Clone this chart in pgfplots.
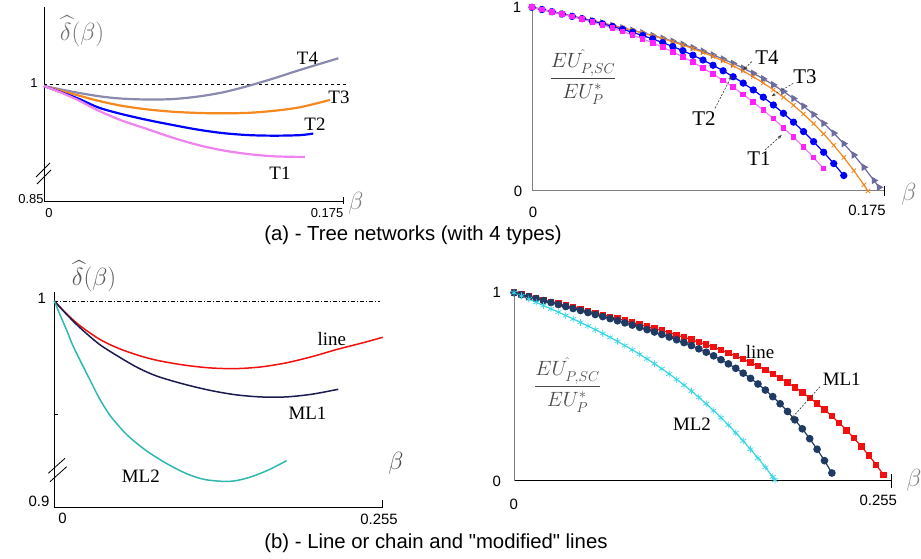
\documentclass[border=0pt]{standalone}
\usepackage{amsmath}
\usepackage{pgfplots}
\pgfplotsset{compat=1.18}
\usepackage{fontspec}
\setmainfont{Liberation Serif}
\setsansfont{Liberation Sans}
\newfontfamily\plainsans{Liberation Sans}[Ligatures=TeXOff]
\usetikzlibrary{arrows.meta,plotmarks}

\definecolor{tOneL}{HTML}{EE82EE}
\definecolor{tOneM}{HTML}{FF22FF}
\definecolor{tTwo}{HTML}{0000FF}
\definecolor{tThree}{HTML}{F5891F}
\definecolor{tFourA}{HTML}{8A8AAE}
\definecolor{tFourB}{HTML}{6C6C9E}
\definecolor{lineRed}{HTML}{F01010}
\definecolor{mlOneA}{HTML}{1B1B4F}
\definecolor{mlOneB}{HTML}{1F3A63}
\definecolor{mlTwoA}{HTML}{2FB8B2}
\definecolor{mlTwoB}{HTML}{3AD6E6}
\definecolor{axgray}{HTML}{808080}

\newcommand\tickfont{\sffamily\fontsize{15}{15}\selectfont}
\newcommand\tickfonta{\sffamily\fontsize{13}{13}\selectfont}
\newcommand\curvefont{\fontsize{19}{21}\selectfont}
\newcommand\curvefontb{\fontsize{21}{23}\selectfont}
\newcommand\capfont{\plainsans\fontsize{20.4}{22}\selectfont}

\pgfplotsset{
  panel/.style={scale only axis, axis lines=left, axis line style={-, line width=1bp},
    xtick=\empty, ytick=\empty, clip=false, anchor=south west},
}

\begin{document}
\begin{tikzpicture}[x=1bp,y=1bp]
\useasboundingbox (0,0) rectangle (921,559);

% ---------------- (a) left: delta-hat for tree networks ----------------
\begin{axis}[panel, at={(44bp,357bp)}, width=299bp, height=195bp,
  xmin=0, xmax=0.175, ymin=0.85, ymax=1.0979]
\addplot[black, dashed, line width=0.8bp] coordinates {(0,1) (0.178,1)};
\addplot[tFourA, line width=2.2bp, smooth] coordinates {
 (0,0.9975) (0.01,0.9930) (0.02,0.9888) (0.033,0.9842) (0.045,0.9815) (0.06,0.9803)
 (0.075,0.9808) (0.09,0.9840) (0.105,0.9895) (0.12,0.9978) (0.135,1.0075) (0.15,1.0180) (0.1723,1.0327)};
\addplot[tThree, line width=2.2bp, smooth] coordinates {
 (0,0.9975) (0.01,0.9912) (0.02,0.9855) (0.032,0.9785) (0.045,0.9725) (0.06,0.9678)
 (0.075,0.9648) (0.09,0.9632) (0.105,0.9627) (0.12,0.9634) (0.135,0.9660) (0.15,0.9705) (0.1674,0.9797)};
\addplot[tTwo, line width=2.2bp, smooth] coordinates {
 (0,0.9975) (0.01,0.9895) (0.02,0.9815) (0.032,0.9700) (0.045,0.9620) (0.06,0.9545)
 (0.075,0.9480) (0.09,0.9420) (0.105,0.9375) (0.12,0.9350) (0.135,0.9343) (0.15,0.9350) (0.1576,0.9370)};
\addplot[tOneL, line width=2.2bp, smooth] coordinates {
 (0,0.9975) (0.01,0.9890) (0.02,0.9795) (0.032,0.9660) (0.045,0.9540) (0.06,0.9430)
 (0.075,0.9320) (0.09,0.9225) (0.105,0.9155) (0.12,0.9108) (0.135,0.9080) (0.1527,0.9072)};
\draw[black, line width=0.8bp] (axis cs:0.175,0.8475) -- (axis cs:0.175,0.8564);
\end{axis}

% ---------------- (a) right: utility ratio for tree networks ----------------
\begin{axis}[panel, at={(532bp,368bp)}, width=352bp, height=183.7bp,
  xmin=0, xmax=0.175, ymin=0, ymax=1,
  x axis line style={axgray}, y axis line style={axgray}]
\addplot[tFourB, line width=1.2bp, mark=triangle*, mark size=3.2bp,
  mark options={rotate=-90, fill=tFourB, draw=tFourB}] coordinates {
 (0,1) (0.005,0.9879) (0.01,0.9758) (0.015,0.9637) (0.02,0.9515) (0.025,0.9393) (0.03,0.9269)
 (0.035,0.9143) (0.04,0.9016) (0.045,0.8885) (0.05,0.8750) (0.055,0.8611) (0.06,0.8466)
 (0.065,0.8313) (0.07,0.8153) (0.075,0.7984) (0.08,0.7803) (0.085,0.7611) (0.09,0.7405)
 (0.095,0.7183) (0.1,0.6944) (0.105,0.6686) (0.11,0.6407) (0.115,0.6105) (0.12,0.5777)
 (0.125,0.5422) (0.13,0.5037) (0.135,0.4621) (0.14,0.4169) (0.145,0.3680) (0.15,0.3150)
 (0.155,0.2578) (0.16,0.1960) (0.165,0.1293) (0.17,0.0574) (0.1725,0.02)};
\addplot[tThree, line width=1.2bp, mark=x, mark size=3bp,
  mark options={line width=0.9bp}] coordinates {
 (0,1) (0.005,0.9879) (0.01,0.9758) (0.015,0.9637) (0.02,0.9515) (0.025,0.9392) (0.03,0.9268)
 (0.035,0.9142) (0.04,0.9012) (0.045,0.8880) (0.05,0.8742) (0.055,0.8599) (0.06,0.8449)
 (0.065,0.8290) (0.07,0.8122) (0.075,0.7943) (0.08,0.7750) (0.085,0.7543) (0.09,0.7319)
 (0.095,0.7077) (0.1,0.6814) (0.105,0.6528) (0.11,0.6216) (0.115,0.5877) (0.12,0.5508)
 (0.125,0.5105) (0.13,0.4666) (0.135,0.4189) (0.14,0.3669) (0.145,0.3105) (0.15,0.2492)
 (0.155,0.1828) (0.16,0.1108) (0.165,0.0329) (0.167,0)};
\addplot[tTwo, line width=1.2bp, mark=*, mark size=3bp] coordinates {
 (0,1) (0.005,0.9879) (0.01,0.9757) (0.015,0.9634) (0.02,0.9507) (0.025,0.9378) (0.03,0.9243)
 (0.035,0.9103) (0.04,0.8956) (0.045,0.8801) (0.05,0.8637) (0.055,0.8462) (0.06,0.8276)
 (0.065,0.8077) (0.07,0.7864) (0.075,0.7635) (0.08,0.7390) (0.085,0.7128) (0.09,0.6846)
 (0.095,0.6544) (0.1,0.6220) (0.105,0.5872) (0.11,0.5502) (0.115,0.5105) (0.12,0.4681)
 (0.125,0.4228) (0.13,0.3747) (0.135,0.3234) (0.14,0.2686) (0.145,0.2109) (0.15,0.1493)
 (0.155,0.0843)};
\addplot[tOneL, line width=1.2bp, mark=square*, mark size=2.2bp,
  mark options={fill=tOneM, draw=tOneM}] coordinates {
 (0,1) (0.005,0.9878) (0.01,0.9754) (0.015,0.9625) (0.02,0.9491) (0.025,0.9349) (0.03,0.9199)
 (0.035,0.9039) (0.04,0.8869) (0.045,0.8687) (0.05,0.8492) (0.055,0.8284) (0.06,0.8062)
 (0.065,0.7823) (0.07,0.7568) (0.075,0.7297) (0.08,0.7006) (0.085,0.6697) (0.09,0.6368)
 (0.095,0.6020) (0.1,0.5648) (0.105,0.5254) (0.11,0.4840) (0.115,0.4400) (0.12,0.3936)
 (0.125,0.3444) (0.13,0.2932) (0.135,0.2390) (0.14,0.1817) (0.145,0.1223)};
\draw[black, line width=0.8bp] (axis cs:0.175,-0.03) -- (axis cs:0.175,0.025);
\end{axis}

% ---------------- (b) left: delta-hat for line networks ----------------
\begin{axis}[panel, at={(54.3bp,51.7bp)}, width=328.4bp, height=215.6bp,
  xmin=0, xmax=0.255, ymin=0.9, ymax=1.0045]
\addplot[black, line width=0.8bp, dash pattern=on 4bp off 2bp on 1bp off 2bp] coordinates {(0,1) (0.2529,1)};
\addplot[lineRed, line width=1.5bp, smooth] coordinates {
 (0,1) (0.01,0.9935) (0.02,0.9880) (0.035,0.9815) (0.05,0.9770) (0.065,0.9737) (0.08,0.9712)
 (0.1,0.9690) (0.12,0.9676) (0.14,0.9672) (0.16,0.9680) (0.18,0.9700) (0.2,0.9730)
 (0.22,0.9766) (0.24,0.9798) (0.255,0.9824)};
\addplot[mlOneA, line width=1.5bp, smooth] coordinates {
 (0,1) (0.01,0.9932) (0.02,0.9870) (0.035,0.9790) (0.05,0.9730) (0.065,0.9676) (0.08,0.9635)
 (0.1,0.9598) (0.12,0.9568) (0.14,0.9546) (0.16,0.9535) (0.18,0.9535) (0.2,0.9548) (0.2205,0.9572)};
\addplot[mlTwoA, line width=1.5bp, smooth] coordinates {
 (0,1) (0.005,0.9925) (0.01,0.9852) (0.015,0.9776) (0.0277,0.9617) (0.035,0.9528) (0.0433,0.9445)
 (0.055,0.9360) (0.065,0.9305) (0.0743,0.9262) (0.0872,0.9212) (0.1002,0.9170) (0.11,0.9146)
 (0.1183,0.9133) (0.13,0.9126) (0.14,0.9128) (0.152,0.9146) (0.166,0.9180) (0.1804,0.9226)};
\draw[black, line width=0.8bp] (axis cs:0,0.9452) -- (axis cs:0.0028,0.9452);
\draw[black, line width=0.8bp] (axis cs:0.255,0.9) -- (axis cs:0.255,0.9034);
\end{axis}

% ---------------- (b) right: utility ratio for line networks ----------------
\begin{axis}[panel, at={(514bp,78bp)}, width=377bp, height=191bp,
  xmin=0, xmax=0.255, ymin=0, ymax=1.0143,
  x axis line style={black}, y axis line style={axgray}]
\addplot[lineRed, line width=1.2bp, mark=square*, mark size=2.6bp] coordinates {
 (0,1) (0.005,0.9903) (0.01,0.9805) (0.015,0.9708) (0.02,0.9610) (0.025,0.9513) (0.03,0.9415)
 (0.035,0.9317) (0.04,0.9219) (0.045,0.9121) (0.05,0.9023) (0.055,0.8924) (0.06,0.8824)
 (0.065,0.8724) (0.07,0.8623) (0.075,0.8521) (0.08,0.8417) (0.085,0.8312) (0.09,0.8206)
 (0.095,0.8097) (0.1,0.7985) (0.105,0.7871) (0.11,0.7754) (0.115,0.7633) (0.12,0.7507)
 (0.125,0.7378) (0.13,0.7243) (0.135,0.7102) (0.14,0.6955) (0.145,0.6801) (0.15,0.6640)
 (0.155,0.6470) (0.16,0.6290) (0.165,0.6101) (0.17,0.5901) (0.175,0.5689) (0.18,0.5465)
 (0.185,0.5227) (0.19,0.4973) (0.195,0.4705) (0.2,0.4417) (0.205,0.4112) (0.21,0.3789)
 (0.215,0.3443) (0.22,0.3076) (0.225,0.2687) (0.23,0.2272) (0.235,0.1830) (0.24,0.1355)
 (0.245,0.0858) (0.25,0.0325)};
\addplot[mlOneB, line width=1.2bp, mark=*, mark size=3.2bp] coordinates {
 (0,1) (0.005,0.9895) (0.01,0.9790) (0.015,0.9685) (0.02,0.9580) (0.025,0.9475) (0.03,0.9370)
 (0.035,0.9264) (0.04,0.9159) (0.045,0.9053) (0.05,0.8946) (0.055,0.8839) (0.06,0.8730)
 (0.065,0.8621) (0.07,0.8509) (0.075,0.8396) (0.08,0.8280) (0.085,0.8161) (0.09,0.8039)
 (0.095,0.7912) (0.1,0.7781) (0.105,0.7644) (0.11,0.7500) (0.115,0.7349) (0.12,0.7189)
 (0.125,0.7020) (0.13,0.6840) (0.135,0.6647) (0.14,0.6441) (0.145,0.6220) (0.15,0.5983)
 (0.155,0.5726) (0.16,0.5450) (0.165,0.5151) (0.17,0.4829) (0.175,0.4480) (0.18,0.4102)
 (0.185,0.3691) (0.19,0.3246) (0.195,0.2770) (0.2,0.2248) (0.205,0.1686) (0.21,0.1079)
 (0.215,0.0424)};
\addplot[mlTwoB, line width=1.2bp, mark=asterisk, mark size=3.4bp,
  mark options={line width=0.7bp}] coordinates {
 (0,1) (0.005,0.9830) (0.01,0.9660) (0.015,0.9489) (0.02,0.9316) (0.025,0.9142) (0.03,0.8966)
 (0.035,0.8788) (0.04,0.8606) (0.045,0.8420) (0.05,0.8230) (0.055,0.8036) (0.06,0.7835)
 (0.065,0.7629) (0.07,0.7416) (0.075,0.7195) (0.08,0.6967) (0.085,0.6730) (0.09,0.6484)
 (0.095,0.6227) (0.1,0.5961) (0.105,0.5683) (0.11,0.5393) (0.115,0.5091) (0.12,0.4775)
 (0.125,0.4444) (0.13,0.4101) (0.135,0.3740) (0.14,0.3365) (0.145,0.2971) (0.15,0.2561)
 (0.155,0.2132) (0.16,0.1683) (0.165,0.1217) (0.17,0.0727) (0.175,0.0221) (0.1765,0.005)};
\draw[black, line width=0.8bp] (axis cs:0.255,-0.035) -- (axis cs:0.255,0.035);
\end{axis}

% ---------------- tick labels ----------------
\begin{scope}[every node/.style={font=\tickfonta, inner sep=0pt}]
\node at (34,476) {1};
\node at (31,360) {0.85};
\node at (49,346) {0};
\node at (327,346) {0.175};
\end{scope}
\begin{scope}[every node/.style={font=\tickfont, inner sep=0pt}]
\node at (517,551.5) {1};
\node at (518,368) {0};
\node at (533,347) {0};
\node at (867,349) {0.175};
\node at (41.7,261) {1};
\node at (39,57.3) {0.9};
\node at (62.5,41) {0};
\node at (379,40) {0.255};
\node at (496.7,266.5) {1};
\node at (496.7,78) {0};
\node at (513.8,55) {0};
\node at (878.3,58.2) {0.255};
\end{scope}

% axis breaks
\draw[black, line width=0.8bp] (36,382) -- (50,396) (37,375) -- (51,389);
\draw[black, line width=0.8bp] (48.3,85.7) -- (65,100.7) (50,77.3) -- (66.7,92.3);

% ---------------- axis titles ----------------
\node[text=black!55, font=\fontsize{26}{28}\selectfont, inner sep=0pt] at (82,528) {$\widehat{\delta}(\beta)$};
\node[text=black!65, font=\fontsize{26}{28}\selectfont, inner sep=0pt] at (94,283) {$\widehat{\delta}(\beta)$};
\node[text=black!50, font=\fontsize{26}{28}\selectfont] at (356,356) {$\beta$};
\node[text=black!50, font=\fontsize{26}{28}\selectfont] at (909,365) {$\beta$};
\node[text=black!70, font=\fontsize{26}{28}\selectfont] at (396,96) {$\beta$};
\node[text=black!50, font=\fontsize{26}{28}\selectfont] at (914,79) {$\beta$};
\node[text=black!75, font=\fontsize{20}{22}\selectfont] at (583,482) {$\dfrac{EU^{\hat{}}_{P,SC}}{EU^{*}_{P}}$};
\node[text=black!70, font=\fontsize{20}{22}\selectfont] at (567.5,174) {$\dfrac{EU^{\hat{}}_{P,SC}}{EU^{*}_{P}}$};

% ---------------- curve labels ----------------
\begin{scope}[every node/.style={font=\curvefont, inner sep=0pt}]
\node at (307.5,501) {T4};
\node at (339,461.5) {T3};
\node at (315,435) {T2};
\node at (280,386) {T1};
\node at (331.7,220) {line};
\node at (307.5,146) {ML1};
\node at (140.8,82.3) {ML2};
\node at (760,207.3) {line};
\node at (841.7,180) {ML1};
\node at (692,135) {ML2};
\end{scope}
\begin{scope}[every node/.style={font=\curvefontb, inner sep=0pt}]
\node at (767,501.5) {T4};
\node at (805,482.3) {T3};
\node at (704,440) {T2};
\node at (759,400) {T1};
\end{scope}

\begin{scope}[black!80, line width=0.6bp, dash pattern=on 2bp off 1.5bp, -{Stealth[length=4bp,width=3bp]}]
\draw (751.7,497.3) -- (743.3,489);
\draw (793.3,475.7) -- (771.7,463);
\draw (715,450.7) -- (731.7,483);
\draw (765,409) -- (781.7,424);
\draw (820,172.3) -- (790,139);
\end{scope}

% ---------------- panel captions ----------------
\node[font=\capfont] at (413,324) {(a) - Tree networks (with 4 types)};
\node[font=\capfont] at (436,16) {(b) - Line or chain and "modified" lines};
\end{tikzpicture}
\end{document}
